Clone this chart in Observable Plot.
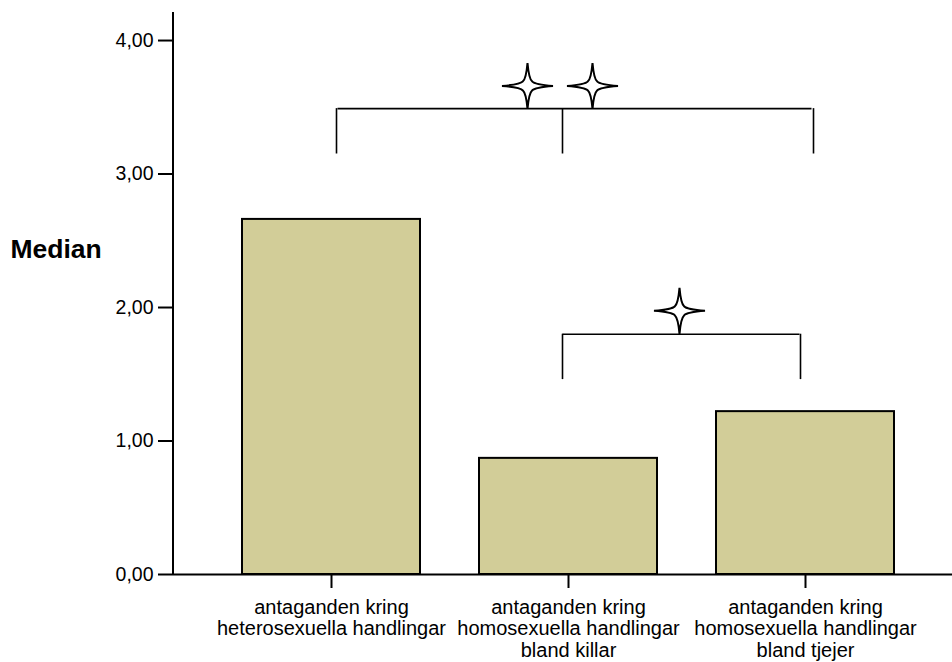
<!DOCTYPE html>
<html><head><meta charset="utf-8">
<script src="https://cdn.jsdelivr.net/npm/d3@7"></script>
<script src="https://cdn.jsdelivr.net/npm/@observablehq/plot@0.6"></script>
<style>body{margin:0;background:#fff;}</style>
</head><body><div id="chart"></div>
<script>
const categories = [
  "antaganden kring\nheterosexuella handlingar",
  "antaganden kring\nhomosexuella handlingar\nbland killar",
  "antaganden kring\nhomosexuella handlingar\nbland tjejer"
];
const medians = [2.66, 0.87, 1.22];
const yTicks = [0, 1, 2, 3, 4];
const yLabel = "Median";
// significance brackets (data units)
const topBracketY = [3.49, 3.15];   // bar level, leg bottom
const lowBracketY = [1.80, 1.46];
const topStarY = 3.66;
const lowStarY = 1.975;

const data = categories.map((c, i) => ({category: c, median: medians[i]}));

const star = {
  draw(ctx, size) {
    const s = Math.sqrt(size / Math.PI);
    const rx = s, ry = s * 0.9, k = s * 0.18, c = s * 0.09;
    // slightly concave arms
    ctx.moveTo(0, -ry);
    ctx.quadraticCurveTo(c * 0.6, -k * 1.6, k, -k);
    ctx.quadraticCurveTo(k * 1.6, -c * 0.6, rx, 0);
    ctx.quadraticCurveTo(k * 1.6, c * 0.6, k, k);
    ctx.quadraticCurveTo(c * 0.6, k * 1.6, 0, ry);
    ctx.quadraticCurveTo(-c * 0.6, k * 1.6, -k, k);
    ctx.quadraticCurveTo(-k * 1.6, c * 0.6, -rx, 0);
    ctx.quadraticCurveTo(-k * 1.6, -c * 0.6, -k, -k);
    ctx.quadraticCurveTo(-c * 0.6, -k * 1.6, 0, -ry);
    ctx.closePath();
  }
};

const yAxisLine = (index, scales, values, dimensions) => {
  const l = document.createElementNS("http://www.w3.org/2000/svg", "line");
  l.setAttribute("x1", dimensions.marginLeft);
  l.setAttribute("x2", dimensions.marginLeft);
  l.setAttribute("y1", dimensions.marginTop);
  l.setAttribute("y2", dimensions.height - dimensions.marginBottom);
  l.setAttribute("stroke", "black");
  l.setAttribute("stroke-width", 2);
  return l;
};

const [c0, c1, c2] = categories;
const bw = 1.6;

const chart = Plot.plot({
  width: 952,
  height: 662,
  marginLeft: 173,
  marginRight: 0,
  marginTop: 12,
  marginBottom: 88,
  style: {fontFamily: "'Liberation Sans', Arial, sans-serif", background: "#fff", color: "black"},
  x: {domain: categories, paddingInner: 0.25, paddingOuter: 0.125, insetLeft: 39.5, insetRight: 28.5},
  y: {domain: [0, 4.21]},
  marks: [
    Plot.barY(data, {x: "category", y: "median", fill: "#d2cd98", stroke: "black", strokeWidth: 2}),
    Plot.ruleY([0], {stroke: "black", strokeWidth: 2}),
    yAxisLine,
    Plot.axisY({ticks: yTicks, tickSize: 15, tickPadding: 5, fontSize: 19.5, strokeWidth: 2,
      tickFormat: d => d.toFixed(2).replace(".", ","), label: null}),
    Plot.axisX({tickSize: 14, tickPadding: 10, fontSize: 20, lineHeight: 1.08, strokeWidth: 2, label: null}),
    Plot.text([yLabel], {frameAnchor: "left", dx: -163, dy: -44, textAnchor: "start", fontSize: 26.5, fontWeight: "bold", fill: "black"}),
    // top bracket
    Plot.link([0], {x1: () => c0, x2: () => c2, y1: () => topBracketY[0], y2: () => topBracketY[0], dx: 6, stroke: "black", strokeWidth: bw}),
    Plot.ruleX([c0], {y1: topBracketY[0], y2: topBracketY[1], dx: 5, stroke: "black", strokeWidth: bw}),
    Plot.ruleX([c1], {y1: topBracketY[0], y2: topBracketY[1], dx: -6, stroke: "black", strokeWidth: bw}),
    Plot.ruleX([c2], {y1: topBracketY[0], y2: topBracketY[1], dx: 8, stroke: "black", strokeWidth: bw}),
    // lower bracket
    Plot.link([0], {x1: () => c1, x2: () => c2, y1: () => lowBracketY[0], y2: () => lowBracketY[0], dx: -6, stroke: "black", strokeWidth: bw}),
    Plot.ruleX([c1], {y1: lowBracketY[0], y2: lowBracketY[1], dx: -6, stroke: "black", strokeWidth: bw}),
    Plot.ruleX([c2], {y1: lowBracketY[0], y2: lowBracketY[1], dx: -5, stroke: "black", strokeWidth: bw}),
    // stars
    Plot.dot([c1], {x: d => d, y: () => topStarY, dx: -41, r: 25.5, symbol: star, fill: "white", stroke: "black", strokeWidth: 2}),
    Plot.dot([c1], {x: d => d, y: () => topStarY, dx: 24, r: 25.5, symbol: star, fill: "white", stroke: "black", strokeWidth: 2}),
    Plot.dot([c1], {x: d => d, y: () => lowStarY, dx: 111, r: 25.5, symbol: star, fill: "white", stroke: "black", strokeWidth: 2})
  ]
});
document.getElementById("chart").appendChild(chart);
</script>
</body></html>
